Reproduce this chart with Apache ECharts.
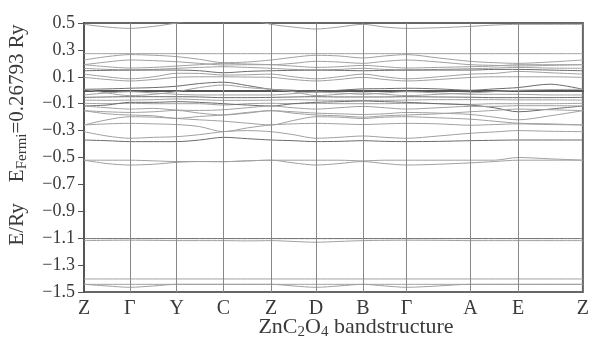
<!DOCTYPE html>
<html>
<head>
<meta charset="utf-8">
<script src="https://cdn.jsdelivr.net/npm/echarts@6/dist/echarts.min.js"></script>
<style>
  html, body { margin: 0; padding: 0; background: #fff; }
  #chart { width: 592px; height: 348px; }
</style>
</head>
<body>
<div id="chart"></div>
<script>
// k-path: high symmetry points and their position along the path
const kLabels = ['Z', 'Γ', 'Y', 'C', 'Z', 'D', 'B', 'Γ', 'A', 'E', 'Z'];
const kPos = [0, 46, 93, 140, 188, 233, 280, 324, 388, 436, 501];
// sample positions: each point plus segment midpoints
const kSamples = [0, 23, 46, 70, 93, 116, 140, 164, 188, 210, 233, 256, 280, 302, 324, 356, 388, 412, 436, 468, 501];

const yTicks = [0.5, 0.3, 0.1, -0.1, -0.3, -0.5, -0.7, -0.9, -1.1, -1.3, -1.5];

// band energies (Ry) at kSamples
const band01 = [0.49, 0.47, 0.46, 0.475, 0.5, 0.53, 0.56, 0.53, 0.49, 0.47, 0.455, 0.47, 0.49, 0.47, 0.46, 0.465, 0.475, 0.485, 0.49, 0.49, 0.49];
const band02 = [0.272, 0.272, 0.272, 0.272, 0.272, 0.272, 0.272, 0.272, 0.272, 0.272, 0.272, 0.272, 0.272, 0.272, 0.272, 0.272, 0.272, 0.272, 0.272, 0.272, 0.272];
const band03 = [0.225, 0.25, 0.265, 0.26, 0.25, 0.23, 0.205, 0.21, 0.225, 0.245, 0.26, 0.255, 0.24, 0.255, 0.265, 0.24, 0.215, 0.205, 0.2, 0.21, 0.225];
const band04 = [0.19, 0.21, 0.225, 0.22, 0.212, 0.2, 0.188, 0.19, 0.19, 0.2, 0.215, 0.21, 0.2, 0.215, 0.225, 0.21, 0.19, 0.185, 0.18, 0.185, 0.19];
const band05 = [0.19, 0.175, 0.165, 0.17, 0.18, 0.19, 0.2, 0.195, 0.19, 0.18, 0.17, 0.175, 0.185, 0.175, 0.165, 0.17, 0.175, 0.18, 0.19, 0.19, 0.19];
const band06 = [0.163, 0.155, 0.15, 0.155, 0.163, 0.17, 0.175, 0.17, 0.163, 0.155, 0.15, 0.155, 0.163, 0.155, 0.15, 0.155, 0.16, 0.165, 0.17, 0.165, 0.163];
const band07 = [0.145, 0.148, 0.15, 0.15, 0.15, 0.145, 0.13, 0.14, 0.145, 0.148, 0.15, 0.148, 0.145, 0.148, 0.15, 0.15, 0.15, 0.155, 0.155, 0.15, 0.145];
const band08 = [0.12, 0.1, 0.085, 0.1, 0.126, 0.125, 0.113, 0.115, 0.12, 0.1, 0.085, 0.1, 0.12, 0.1, 0.085, 0.1, 0.12, 0.125, 0.14, 0.13, 0.12];
const band09 = [0.096, 0.08, 0.069, 0.08, 0.096, 0.1, 0.1, 0.098, 0.096, 0.08, 0.069, 0.08, 0.096, 0.08, 0.069, 0.08, 0.095, 0.1, 0.1, 0.1, 0.096];
const band10 = [0.007, 0.01, 0.015, 0.02, 0.03, 0.05, 0.06, 0.035, 0.007, 0.0, -0.01, 0.0, 0.01, 0.012, 0.015, 0.01, 0.0, 0.01, 0.02, 0.045, 0.007];
const band11 = [0.007, -0.02, -0.04, -0.03, -0.01, 0.02, 0.039, 0.02, 0.007, -0.01, -0.04, -0.03, -0.02, -0.03, -0.04, -0.03, -0.02, -0.01, 0.0, 0.005, 0.007];
const band12 = [-0.035, -0.02, -0.011, -0.02, -0.03, -0.035, -0.035, -0.035, -0.035, -0.025, -0.015, -0.02, -0.03, -0.02, -0.011, -0.02, -0.03, -0.03, -0.03, -0.035, -0.035];
const band13 = [-0.053, -0.05, -0.048, -0.048, -0.048, -0.05, -0.055, -0.055, -0.053, -0.05, -0.048, -0.05, -0.05, -0.05, -0.048, -0.05, -0.052, -0.055, -0.055, -0.055, -0.053];
const band14 = [-0.073, -0.075, -0.073, -0.07, -0.065, -0.07, -0.075, -0.075, -0.073, -0.07, -0.073, -0.075, -0.075, -0.075, -0.073, -0.07, -0.07, -0.07, -0.072, -0.072, -0.073];
const band15 = [-0.097, -0.1, -0.097, -0.1, -0.1, -0.1, -0.11, -0.1, -0.097, -0.1, -0.097, -0.1, -0.1, -0.1, -0.097, -0.1, -0.105, -0.1, -0.1, -0.1, -0.097];
const band16 = [-0.117, -0.11, -0.09, -0.09, -0.085, -0.09, -0.1, -0.11, -0.117, -0.1, -0.09, -0.085, -0.08, -0.085, -0.09, -0.1, -0.11, -0.13, -0.16, -0.14, -0.117];
const band17 = [-0.117, -0.13, -0.14, -0.135, -0.147, -0.15, -0.145, -0.13, -0.117, -0.13, -0.14, -0.13, -0.12, -0.13, -0.14, -0.13, -0.12, -0.12, -0.115, -0.115, -0.117];
const band18 = [-0.152, -0.16, -0.165, -0.16, -0.15, -0.17, -0.184, -0.17, -0.152, -0.16, -0.17, -0.175, -0.18, -0.175, -0.165, -0.17, -0.18, -0.2, -0.22, -0.19, -0.152];
const band19 = [-0.152, -0.175, -0.184, -0.19, -0.209, -0.195, -0.184, -0.165, -0.152, -0.17, -0.184, -0.19, -0.2, -0.19, -0.184, -0.175, -0.16, -0.15, -0.14, -0.145, -0.152];
const band20 = [-0.258, -0.22, -0.197, -0.2, -0.21, -0.22, -0.23, -0.245, -0.258, -0.225, -0.197, -0.2, -0.21, -0.2, -0.197, -0.205, -0.215, -0.23, -0.245, -0.25, -0.258];
const band21 = [-0.258, -0.25, -0.246, -0.25, -0.255, -0.27, -0.308, -0.28, -0.258, -0.25, -0.246, -0.25, -0.255, -0.25, -0.246, -0.25, -0.26, -0.255, -0.25, -0.255, -0.258];
const band22 = [-0.308, -0.34, -0.357, -0.35, -0.345, -0.33, -0.308, -0.3, -0.308, -0.33, -0.357, -0.35, -0.34, -0.35, -0.357, -0.34, -0.32, -0.31, -0.3, -0.305, -0.308];
const band23 = [-0.37, -0.375, -0.382, -0.382, -0.382, -0.37, -0.35, -0.36, -0.37, -0.375, -0.382, -0.38, -0.375, -0.38, -0.382, -0.38, -0.375, -0.372, -0.37, -0.37, -0.37];
const band24 = [-0.52, -0.545, -0.556, -0.55, -0.536, -0.53, -0.531, -0.525, -0.52, -0.54, -0.556, -0.545, -0.53, -0.545, -0.556, -0.55, -0.54, -0.53, -0.52, -0.52, -0.52];
const band25 = [-0.52, -0.52, -0.52, -0.525, -0.53, -0.53, -0.531, -0.525, -0.52, -0.52, -0.52, -0.52, -0.525, -0.52, -0.52, -0.52, -0.52, -0.52, -0.5, -0.51, -0.52];
const band26 = [-1.103, -1.103, -1.103, -1.103, -1.103, -1.103, -1.103, -1.103, -1.103, -1.103, -1.103, -1.103, -1.103, -1.103, -1.103, -1.103, -1.103, -1.103, -1.103, -1.103, -1.103];
const band27 = [-1.118, -1.116, -1.115, -1.116, -1.118, -1.118, -1.118, -1.12, -1.118, -1.124, -1.13, -1.124, -1.118, -1.116, -1.115, -1.116, -1.118, -1.118, -1.118, -1.118, -1.118];
const band28 = [-1.403, -1.403, -1.403, -1.403, -1.403, -1.403, -1.403, -1.403, -1.403, -1.403, -1.403, -1.403, -1.403, -1.403, -1.403, -1.403, -1.403, -1.403, -1.403, -1.403, -1.403];
const band29 = [-1.443, -1.443, -1.443, -1.443, -1.443, -1.443, -1.443, -1.443, -1.443, -1.443, -1.443, -1.443, -1.443, -1.443, -1.443, -1.443, -1.443, -1.443, -1.443, -1.443, -1.443];
const band30 = [-1.443, -1.455, -1.465, -1.455, -1.443, -1.443, -1.443, -1.443, -1.443, -1.455, -1.465, -1.455, -1.443, -1.455, -1.465, -1.455, -1.443, -1.443, -1.443, -1.443, -1.443];

const bands = [band01, band02, band03, band04, band05, band06, band07, band08, band09, band10,
  band11, band12, band13, band14, band15, band16, band17, band18, band19, band20,
  band21, band22, band23, band24, band25, band26, band27, band28, band29, band30];
const darkBands = [6, 9, 12, 15, 22, 25];

const font = '"Liberation Serif", "DejaVu Serif", serif';
const textColor = '#3a3a3a';

const series = bands.map((b, i) => ({
  type: 'line',
  data: b.map((e, j) => [kSamples[j], e]),
  showSymbol: false,
  smooth: 0.3,
  silent: true,
  lineStyle: {
    color: darkBands.includes(i) ? '#6a6a6a' : '#a0a0a0',
    width: 1
  }
}));

// vertical lines at the inner high-symmetry points
series[0].markLine = {
  silent: true,
  symbol: ['none', 'none'],
  label: { show: false },
  lineStyle: { color: '#888', width: 1, type: 'solid' },
  data: kPos.slice(1, -1).map(k => ({ xAxis: k }))
};

const fmtY = v => (v < 0 ? '\u2212' : '') + Math.abs(v).toFixed(1);

const chart = echarts.init(document.getElementById('chart'));
chart.setOption({
  animation: false,
  grid: {
    left: 84, right: 7, top: 23, bottom: 56,
    show: true, borderColor: '#666', borderWidth: 2
  },
  xAxis: {
    type: 'value',
    min: 0,
    max: 501,
    axisLine: { lineStyle: { color: '#555', width: 2 } },
    axisTick: { show: false },
    splitLine: { show: false },
    axisLabel: {
      customValues: kPos,
      showMinLabel: true,
      showMaxLabel: true,
      margin: 7,
      color: textColor,
      fontFamily: font,
      fontSize: 20,
      formatter: v => kLabels[kPos.indexOf(v)]
    }
  },
  yAxis: {
    type: 'value',
    min: -1.5,
    max: 0.5,
    axisLine: { show: true, lineStyle: { color: '#555', width: 2 } },
    axisTick: { show: true, customValues: yTicks, length: 6, lineStyle: { color: '#555' } },
    splitLine: { show: false },
    axisLabel: {
      customValues: yTicks,
      showMinLabel: true,
      showMaxLabel: true,
      margin: 9,
      color: textColor,
      fontFamily: font,
      fontSize: 18,
      formatter: fmtY
    }
  },
  graphic: [
    {
      type: 'text',
      x: 17,
      y: 135,
      rotation: Math.PI / 2,
      style: {
        text: 'E/Ry    E{sub|Fermi}=0.26793 Ry',
        fill: textColor,
        font: '21px ' + font,
        align: 'center',
        verticalAlign: 'middle',
        rich: {
          sub: { fontSize: 15, fontFamily: font, fill: textColor, padding: [10, 0, 0, 0] }
        }
      }
    },
    {
      type: 'text',
      x: 356,
      y: 327,
      style: {
        text: 'ZnC{sub|2}O{sub|4} bandstructure',
        fill: textColor,
        font: '22px ' + font,
        align: 'center',
        verticalAlign: 'middle',
        rich: {
          sub: { fontSize: 15, fontFamily: font, fill: textColor, padding: [10, 0, 0, 0] }
        }
      }
    }
  ],
  series: series
});
</script>
</body>
</html>
